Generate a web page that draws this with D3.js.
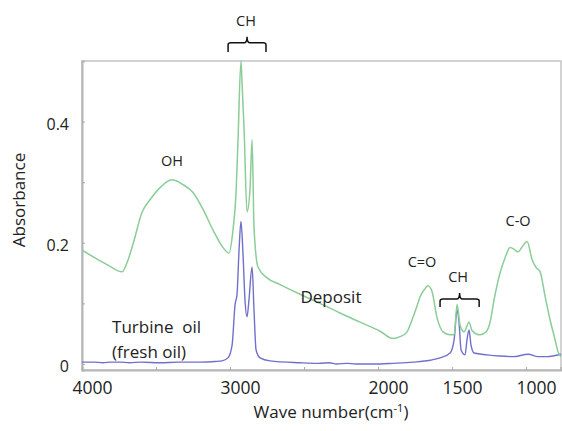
<!DOCTYPE html>
<html>
<head>
<meta charset="utf-8">
<script src="https://cdn.jsdelivr.net/npm/d3@7"></script>
<style>
  body { margin: 0; background: #fff; }
  text { font-family: "Open Sans", sans-serif; fill: #222; }
</style>
</head>
<body>
<svg width="562" height="431"></svg>
<script>
// wave numbers (cm-1) and absorbance
var depositWave = [4000,3912,3811,3760,3730,3696,3655,3595,3541,3473,3392,3318,3250,3182,3115,3047,3007,2980,2959,2946,2926,2918,2905,2885,2865,2851,2838,2811,2750,2662,2527,2392,2257,2122,1986,1899,1851,1804,1770,1736,1716,1689,1662,1635,1601,1561,1513,1486,1466,1446,1419,1385,1365,1311,1270,1243,1216,1176,1142,1108,1074,1054,1027,993,959,932,905,871,838,804,784,764]
var depositAbs  = [0.188,0.175,0.161,0.154,0.152,0.167,0.198,0.250,0.271,0.291,0.304,0.296,0.283,0.255,0.221,0.192,0.183,0.221,0.284,0.370,0.500,0.460,0.387,0.251,0.288,0.370,0.226,0.160,0.142,0.131,0.115,0.100,0.084,0.069,0.054,0.042,0.045,0.053,0.073,0.096,0.111,0.122,0.129,0.119,0.076,0.053,0.048,0.048,0.098,0.064,0.053,0.069,0.055,0.048,0.053,0.069,0.106,0.150,0.175,0.192,0.188,0.185,0.193,0.202,0.172,0.159,0.152,0.111,0.073,0.040,0.020,0.012]

var oilWave = [4000,3920,3860,3800,3743,3680,3600,3473,3350,3203,3100,3054,3014,2986,2966,2953,2939,2926,2912,2899,2885,2872,2851,2838,2824,2797,2730,2527,2400,2330,2280,2209,2150,2080,1986,1900,1764,1650,1581,1513,1486,1466,1453,1439,1412,1399,1385,1372,1351,1264,1180,1088,986,920,858,764]
var oilAbs  = [0.003,0.003,0.002,0.003,0.003,0.002,0.003,0.002,0.003,0.003,0.004,0.005,0.010,0.031,0.098,0.114,0.188,0.235,0.180,0.106,0.078,0.106,0.160,0.089,0.023,0.010,0.005,0.002,0.001,0.002,0.000,0.001,0.000,0.000,0.000,0.001,0.003,0.006,0.010,0.018,0.040,0.089,0.069,0.023,0.015,0.040,0.056,0.031,0.018,0.015,0.013,0.012,0.016,0.012,0.012,0.016]

var yTicks = [0,0.1,0.2,0.3,0.4]
var yLabels = [0,0.2,0.4]
var xTicks = [4000,3500,3000,2500,2000,1500,1000]
var xLabels = [4000,3000,2000,1500,1000]

// text notes: [label, wave, absorbance, anchor]
var notes = [
  ['CH', 2892, 0.558, 'middle'],
  ['OH', 3392, 0.327, 'middle'],
  ['Deposit', 2318, 0.101, 'middle'],
  ['C=O', 1703, 0.160, 'middle'],
  ['CH', 1459, 0.135, 'middle'],
  ['C-O', 1054, 0.228, 'middle'],
  ['Turbine  oil', 3797, 0.051, 'start'],
  ['(fresh oil)', 3797, 0.010, 'start']
]
// brackets: [left wave, right wave, bar abs, end abs, tip abs]
var brackets = [
  [3013, 2757, 0.530, 0.515, 0.540],
  [1581, 1317, 0.107, 0.094, 0.117]
]

var svg = d3.select('svg')
var pL = 82, pR = 561, pT = 61, pB = 370

var x = d3.scaleLinear().domain([4000, 764]).range([pL, pR])
var y = d3.scaleLinear().domain([-0.01, 0.5]).range([pB, pT])

svg.append('clipPath').attr('id','clip')
   .append('rect').attr('x',pL).attr('y',pT-1).attr('width',pR-pL).attr('height',pB-pT+1)

// frame
svg.append('rect')
   .attr('x',pL).attr('y',pT).attr('width',pR-pL).attr('height',pB-pT)
   .attr('fill','none').attr('stroke','#c4c4c4').attr('stroke-width',1.5)

var yAxis = svg.append('g').attr('transform','translate('+pL+',0)')
   .call(d3.axisLeft(y).tickValues(yTicks).tickSize(-3).tickPadding(13)
        .tickFormat(function(d){ return yLabels.indexOf(d) >= 0 ? d3.format('')(d) : '' }))
yAxis.select('.domain').attr('stroke','#b5b5b5').attr('stroke-width',2)
yAxis.selectAll('line').attr('stroke','#aaa')
yAxis.selectAll('text').style('font-size','16px').attr('fill','#222').attr('dy','0.5em')

var xAxis = svg.append('g').attr('transform','translate(0,'+pB+')')
   .call(d3.axisBottom(x).tickValues(xTicks).tickSize(-3).tickPadding(12)
        .tickFormat(function(d){ return xLabels.indexOf(d) >= 0 ? d : '' }))
xAxis.select('.domain').attr('stroke','#b5b5b5').attr('stroke-width',2)
xAxis.selectAll('line').attr('stroke','#aaa')
xAxis.selectAll('text').style('font-size','17.5px').attr('fill','#222').attr('dx',10)

var line = d3.line()
   .x(function(d){ return x(d[0]) })
   .y(function(d){ return y(d[1]) })
   .curve(d3.curveMonotoneX)

svg.append('path')
   .datum(oilWave.map(function(w,i){ return [w, oilAbs[i]] }))
   .attr('d', line).attr('fill','none')
   .attr('stroke','#7070cc').attr('stroke-width',1.4)
   .attr('clip-path','url(#clip)')

svg.append('path')
   .datum(depositWave.map(function(w,i){ return [w, depositAbs[i]] }))
   .attr('d', line).attr('fill','none')
   .attr('stroke','#8acd96').attr('stroke-width',1.5)
   .attr('clip-path','url(#clip)')

// notes
svg.selectAll('.note').data(notes).enter()
   .append('text').attr('class','note')
   .attr('x', function(d){ return x(d[1]) })
   .attr('y', function(d){ return y(d[2]) })
   .attr('text-anchor', function(d){ return d[3] })
   .style('white-space','pre')
   .style('font-size', function(d){ return d[0].length > 4 ? '17px' : '14.5px' })
   .text(function(d){ return d[0] })

svg.selectAll('.bracket').data(brackets).enter()
   .append('path').attr('class','bracket')
   .attr('d', function(d){
      var x0 = x(d[0]), x1 = x(d[1]), xm = (x0+x1)/2
      var yb = y(d[2]), ye = y(d[3]), yt = y(d[4])
      return 'M'+x0+','+ye+' L'+x0+','+(yb+2)+' Q'+x0+','+yb+' '+(x0+3)+','+yb
           +' L'+(xm-3)+','+yb+' Q'+xm+','+yb+' '+xm+','+yt
           +' Q'+xm+','+yb+' '+(xm+3)+','+yb
           +' L'+(x1-3)+','+yb+' Q'+x1+','+yb+' '+x1+','+(yb+2)+' L'+x1+','+ye
   })
   .attr('fill','none').attr('stroke','#111').attr('stroke-width',1.5)

// axis titles
svg.append('text')
   .attr('transform','translate(25,200) rotate(-90)')
   .attr('text-anchor','middle').style('font-size','17px')
   .text('Absorbance')

var xt = svg.append('text')
   .attr('x',331).attr('y',418)
   .attr('text-anchor','middle').style('font-size','17px')
xt.append('tspan').text('Wave number(cm')
xt.append('tspan').attr('dy',-6).style('font-size','11px').text('-1')
xt.append('tspan').attr('dy',6).text(')')
</script>
</body>
</html>
